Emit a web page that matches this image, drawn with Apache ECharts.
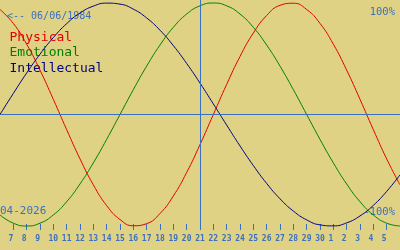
<!DOCTYPE html>
<html>
<head>
<meta charset="utf-8">
<script src="https://cdn.jsdelivr.net/npm/echarts@6/dist/echarts.min.js"></script>
<style>
html,body{margin:0;padding:0;background:#e0d284;}
#c{width:400px;height:250px;}
</style>
</head>
<body>
<div id="c"></div>
<script>
// Days shown on the axis (06 Apr 2026 .. 06 May 2026)
const days = [6,7,8,9,10,11,12,13,14,15,16,17,18,19,20,21,22,23,24,25,26,27,28,29,30,1,2,3,4,5,6];
const todayIndex = 15; // 21 April
const birthLabel = '<-- 06/06/1984';
const monthLabel = '04-2026';
const topLabel = '100%';
const bottomLabel = '-100%';
const seriesNames = ['Physical', 'Emotional', 'Intellectual'];

const physical = [0.942,0.817,0.631,0.398,0.136,-0.136,-0.398,-0.631,-0.817,-0.942,-0.998,-0.979,-0.888,-0.731,-0.520,-0.270,0,0.270,0.520,0.731,0.888,0.979,0.998,0.942,0.817,0.631,0.398,0.136,-0.136,-0.398,-0.631];
const emotional = [-0.901,-0.975,-1,-0.975,-0.901,-0.782,-0.623,-0.434,-0.223,0,0.223,0.434,0.623,0.782,0.901,0.975,1,0.975,0.901,0.782,0.623,0.434,0.223,0,-0.223,-0.434,-0.623,-0.782,-0.901,-0.975,-1];
const intellectual = [0,0.189,0.372,0.541,0.690,0.815,0.910,0.972,0.999,0.990,0.945,0.866,0.756,0.618,0.458,0.282,0.095,-0.095,-0.282,-0.458,-0.618,-0.756,-0.866,-0.945,-0.990,-0.999,-0.972,-0.910,-0.815,-0.690,-0.541];

const BLUE = '#3a70c0';
const colors = ['#e00000', '#008000', '#000080'];
const MONO = '"DejaVu Sans Mono", monospace';

const chart = echarts.init(document.getElementById('c'), null, {renderer: 'canvas'});

function txt(text, x, y, fill, size, align) {
  return {
    type: 'text', silent: true, z: 1,
    style: {
      text: text, x: x, y: y, fill: fill,
      font: size + 'px ' + MONO,
      textAlign: align, align: align,
      textVerticalAlign: 'middle', verticalAlign: 'middle'
    }
  };
}

const edgeHide = function (idx) { return idx > 0 && idx < days.length - 1; };

chart.setOption({
  backgroundColor: '#e0d284',
  animation: false,
  grid: {left: 0, right: 0, top: 0, bottom: 20, containLabel: false},
  xAxis: {
    type: 'category',
    data: days,
    boundaryGap: false,
    axisLine: {show: false, onZero: false},
    axisTick: {show: true, inside: true, length: 6, interval: edgeHide, lineStyle: {color: BLUE, width: 1}},
    axisLabel: {
      show: true, interval: edgeHide, margin: 5,
      color: BLUE, fontSize: 8, fontWeight: 'bold', fontFamily: MONO,
      formatter: function (v) { return String(v).padEnd(2, ' '); }
    },
    splitLine: {show: false}
  },
  yAxis: {
    type: 'value', min: -1.036, max: 1.027, show: false, splitLine: {show: false}
  },
  graphic: [
    txt(birthLabel, 7, 16.5, BLUE, 10, 'left'),
    txt(topLabel, 395, 12, BLUE, 10.5, 'right'),
    txt(seriesNames[0], 9.5, 37.5, colors[0], 13, 'left'),
    txt(seriesNames[1], 9.5, 53, colors[1], 13, 'left'),
    txt(seriesNames[2], 9.5, 68.5, colors[2], 13, 'left'),
    txt(monthLabel, 0, 211.5, BLUE, 11, 'left'),
    txt(bottomLabel, 395, 212, BLUE, 10.5, 'right')
  ],
  series: [
    {
      name: seriesNames[0], type: 'line', data: physical, smooth: true, symbol: 'none',
      lineStyle: {color: colors[0], width: 1}, z: 3,
      markLine: {
        silent: true, symbol: 'none', label: {show: false},
        lineStyle: {color: BLUE, width: 1, type: 'solid'},
        data: [{xAxis: todayIndex}, {yAxis: 0}]
      }
    },
    {
      name: seriesNames[1], type: 'line', data: emotional, smooth: true, symbol: 'none',
      lineStyle: {color: colors[1], width: 1}, z: 3
    },
    {
      name: seriesNames[2], type: 'line', data: intellectual, smooth: true, symbol: 'none',
      lineStyle: {color: colors[2], width: 1}, z: 3
    }
  ]
});
</script>
</body>
</html>
